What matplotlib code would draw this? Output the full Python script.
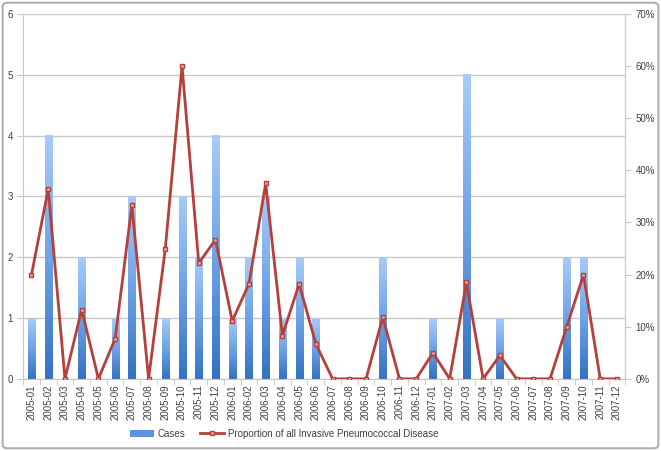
import numpy as np
import matplotlib
matplotlib.use("Agg")
import matplotlib.pyplot as plt
from matplotlib.patches import FancyBboxPatch, Rectangle
from matplotlib.lines import Line2D
from matplotlib.colors import LinearSegmentedColormap
from matplotlib.ticker import PercentFormatter

months = [f"{y}-{m:02d}" for y in (2005, 2006, 2007) for m in range(1, 13)]

cases = [1, 4, 0, 2, 0, 1, 3, 0, 1, 3, 2, 4,
         1, 2, 3, 1, 2, 1, 0, 0, 0, 2, 0, 0,
         1, 0, 5, 0, 1, 0, 0, 0, 2, 2, 0, 0]

proportion = [0.200, 0.364, 0.0, 0.133, 0.0, 0.077, 0.333, 0.0, 0.250, 0.600, 0.222, 0.267,
              0.111, 0.182, 0.375, 0.083, 0.182, 0.067, 0.0, 0.0, 0.0, 0.118, 0.0, 0.0,
              0.050, 0.0, 0.185, 0.0, 0.045, 0.0, 0.0, 0.0, 0.100, 0.200, 0.0, 0.0]

plt.rcParams['font.family'] = ['Liberation Sans', 'DejaVu Sans']
txt = "#404040"
grid_c = "#c8c8c8"
line_c = "#b5403b"

fig = plt.figure(figsize=(6.61, 4.51), dpi=100)
ax = fig.add_axes([0.035, 0.16, 0.911, 0.809])

x = np.arange(len(months))
w = 0.42
cmap = LinearSegmentedColormap.from_list("bar", ["#3672c2", "#6ea3e6", "#a8cbf7"])
grad = np.linspace(0, 1, 64).reshape(-1, 1)
bars = ax.bar(x, cases, width=w, color="none", zorder=2)
for b in bars:
    h = b.get_height()
    if h <= 0:
        continue
    x0 = b.get_x()
    ax.imshow(grad, cmap=cmap, origin="lower", aspect="auto", interpolation="bicubic",
              extent=[x0, x0 + b.get_width(), 0, h], zorder=2)

ax.set_xlim(-0.5, len(months) - 0.5)
ax.set_ylim(0, 6)
ax.set_yticks(range(0, 7))
ax.yaxis.grid(True, color=grid_c, linewidth=1)
ax.set_axisbelow(True)
ax.set_xticks(x)
ax.set_xticklabels(months, rotation=90, fontsize=7, color=txt)
ax.set_xticks(np.arange(-0.5, len(months)), minor=True)
ax.tick_params(axis="x", which="major", length=0, pad=4)
ax.tick_params(axis="x", which="minor", length=4, color=grid_c)
ax.tick_params(axis="y", labelsize=7, colors=txt, length=4, color=grid_c)
ax.spines["top"].set_visible(False)
for s in ("left", "bottom", "right"):
    ax.spines[s].set_color(grid_c)

ax2 = ax.twinx()
ax2.plot(x, proportion, color=line_c, linewidth=2, marker="s", markersize=3.5,
         markerfacecolor="#e8a3a0", markeredgecolor=line_c, markeredgewidth=1, zorder=3)
ax2.set_ylim(0, 0.7)
ax2.set_yticks(np.arange(0, 0.71, 0.1))
ax2.yaxis.set_major_formatter(PercentFormatter(1.0, decimals=0))
ax2.tick_params(axis="y", labelsize=7, colors=txt, length=4, color=grid_c)
ax2.spines["top"].set_visible(False)
ax2.spines["left"].set_visible(False)
ax2.spines["bottom"].set_visible(False)
ax2.spines["right"].set_color(grid_c)

h1 = Rectangle((0, 0), 1, 1, facecolor="#5b93dc", edgecolor="none")
h2 = Line2D([], [], color=line_c, linewidth=2, marker="s", markersize=3.5,
            markerfacecolor="#e8a3a0", markeredgecolor=line_c)
fig.legend([h1, h2], ["Cases", "Proportion of all Invasive Pneumococcal Disease"],
           loc="center", bbox_to_anchor=(0.43, 0.038), ncol=2, frameon=False,
           fontsize=7, labelcolor=txt, handlelength=2.5, handletextpad=0.4,
           columnspacing=1.5)

fig.patches.append(FancyBboxPatch((0.004, 0.006), 0.992, 0.988,
                                  boxstyle="round,pad=0,rounding_size=0.008",
                                  transform=fig.transFigure, fill=False,
                                  edgecolor="#b0b0b0", linewidth=1.5))

plt.savefig("out.png", dpi=100)
